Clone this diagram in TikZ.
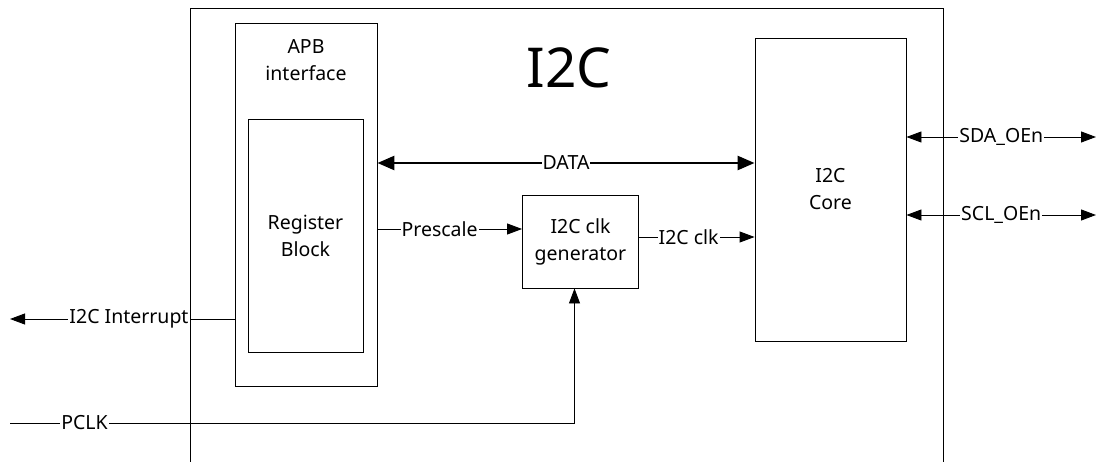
\documentclass[tikz,border=0pt]{standalone}
\usepackage{fontspec}
\setmainfont{Noto Sans}
\usetikzlibrary{arrows.meta,positioning,calc}

\tikzset{
  blk/.style={draw, line width=0.9pt, inner sep=0pt, align=center, font=\fontsize{19.5}{27}\selectfont},
  txt/.style={font=\fontsize{19.5}{27}\selectfont, align=center, inner sep=1pt},
  tag/.style={txt, fill=white, inner sep=1pt},
  sig/.style={line width=0.9pt, -{Triangle[length=15pt,width=11pt]}},
  bisig/.style={line width=0.9pt, {Triangle[length=15pt,width=11pt]}-{Triangle[length=15pt,width=11pt]}},
}

\begin{document}
\begin{tikzpicture}[x=1pt, y=-1pt]
\useasboundingbox (0,0) rectangle (1102,462);

% Outer I2C block, open at the bottom
\draw[line width=0.9pt] (190,462) |- (943,8) -- (943,462);
\node[txt, font=\fontsize{55}{60}\selectfont] (title) at (569,68) {I2C};

% APB interface with the register block inside
\node[blk, minimum width=142pt, minimum height=363pt] (apb) at (306,204.5) {};
\node[txt] (apbtxt) at (306,60) {APB\\interface};
\node[blk, minimum width=115pt, minimum height=233pt] (reg) at (305.5,235.5) {Register\\Block};

% Clock generator and core
\node[blk, minimum width=116pt, minimum height=93pt] (gen) at (580.5,241.5) {I2C clk\\generator};
\node[blk, minimum width=151pt, minimum height=303pt] (core) at (830.5,189.5) {I2C\\Core};

% Signal levels and free ends
\coordinate (ydata) at (0,163);
\coordinate (ypre) at (0,229);
\coordinate (yclk) at (0,237);
\coordinate (sdaout) at (1096,137);
\coordinate (sclout) at (1096,215);
\coordinate (irqout) at (10,319);
\coordinate (pclkin) at (10,423);

% DATA bus
\draw[line width=2.6pt, {Triangle[length=17pt,width=14pt]}-{Triangle[length=17pt,width=14pt]}]
  (apb.east |- ydata) -- node[tag] {DATA} (core.west |- ydata);

% Prescale and I2C clk
\draw[sig] (apb.east |- ypre) -- node[tag, pos=0.43] {Prescale} (gen.west |- ypre);
\draw[sig] (gen.east |- yclk) -- node[tag, pos=0.43] {I2C clk} (core.west |- yclk);

% SDA / SCL outputs
\draw[bisig] (core.east |- sdaout) -- node[tag] {SDA\_OEn} (sdaout);
\draw[bisig] (core.east |- sclout) -- node[tag] {SCL\_OEn} (sclout);

% Interrupt out, PCLK in
\draw[sig] (apb.west |- irqout) -- node[tag, pos=0.47] {I2C Interrupt} (irqout);
\draw[sig] (pclkin) -| node[tag, pos=0.066] {PCLK} ([xshift=-6pt]gen.south);

\end{tikzpicture}
\end{document}
